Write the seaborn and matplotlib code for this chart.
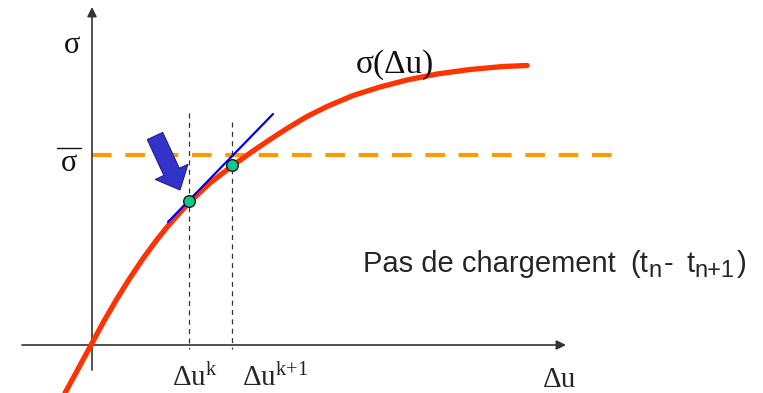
import numpy as np
import pandas as pd
import seaborn as sns
import matplotlib
matplotlib.use("Agg")
import matplotlib.pyplot as plt
from matplotlib.patches import FancyArrow

# ---- données du schéma (repère en pixels, y vers le bas) ----
curve_x = [65, 77, 91, 104, 117, 130, 143, 156, 168, 189, 210, 232, 253, 270, 287,
           307, 327, 353, 380, 407, 437, 470, 503, 527]
curve_y = [393, 371, 345, 321, 298.7, 277.9, 258.6, 240.9, 225.9, 202.5, 183, 166, 151,
           139.5, 128.5, 116.5, 106.5, 95.5, 87, 80, 74, 69.5, 66.5, 65.5]

iter_x = [189, 232]          # Δu^k, Δu^(k+1)
iter_y = [201, 165]
iter_top = [113, 122]        # haut des pointillés verticaux

tangent_x = [168, 273]
tangent_y = [222, 114]

sigma_bar = 155              # niveau de chargement
x_axis_y = 345
y_axis_x = 92

sns.set_style("white")
plt.rcParams['font.family'] = ['Liberation Serif', 'DejaVu Serif']

fig = plt.figure(figsize=(7.63, 3.93), dpi=100)
ax = fig.add_axes([0, 0, 1, 1])
ax.set_xlim(0, 763)
ax.set_ylim(393, 0)
ax.axis('off')

# axes du schéma
ax.annotate('', xy=(566, x_axis_y), xytext=(22, x_axis_y),
            arrowprops=dict(arrowstyle='-|>', color='#333333', lw=1.2,
                            mutation_scale=14, shrinkA=0, shrinkB=0))
ax.annotate('', xy=(y_axis_x, 7), xytext=(y_axis_x, 370),
            arrowprops=dict(arrowstyle='-|>', color='#333333', lw=1.2,
                            mutation_scale=14, shrinkA=0, shrinkB=0))

# niveau sigma barre
ax.plot([y_axis_x, 612], [sigma_bar, sigma_bar], color='#FF9900', lw=3,
        dashes=(4.7, 3.3), solid_capstyle='butt', zorder=2)

# pointillés verticaux
for xv, top in zip(iter_x, iter_top):
    ax.plot([xv, xv], [top, 349], color='#333333', lw=0.9, dashes=(4, 3.5), zorder=2)

# courbe sigma(Δu)
df = pd.DataFrame({'x': curve_x, 'y': curve_y})
sns.lineplot(data=df, x='x', y='y', sort=False, estimator=None,
             color='#FF3300', lw=3.8, ax=ax, zorder=3)
ax.lines[-1].set_solid_joinstyle('round')

# tangente
sns.lineplot(x=tangent_x, y=tangent_y, sort=False, estimator=None,
             color='#0000EE', lw=1.6, ax=ax, zorder=4)

# points d'itération
sns.scatterplot(x=iter_x, y=iter_y, color='#11C98A', edgecolor='#1a1a1a',
                s=70, linewidth=1.0, ax=ax, zorder=5)

# grosse flèche bleue
ax.add_patch(FancyArrow(155, 136, 25, 54, width=17, head_width=36, head_length=20,
                        length_includes_head=True, facecolor='#3333CC',
                        edgecolor='#222288', lw=0.8, zorder=6))

ax.set_xlabel('')
ax.set_ylabel('')

# textes
ax.text(72, 53, 'σ', fontsize=22, ha='center', va='baseline', color='#111111')
ax.text(69, 171, 'σ', fontsize=22, ha='center', va='baseline', color='#111111')
ax.plot([57, 81], [148, 148], color='#111111', lw=1.0)
ax.text(395, 73, 'σ(Δu)', fontsize=24, ha='center', va='baseline', color='#111111')
ax.text(195, 386, 'Δu$\\mathregular{^k}$', fontsize=21, ha='center', va='baseline')
ax.text(275, 386, 'Δu$\\mathregular{^{k{+}1}}$', fontsize=21, ha='center', va='baseline')
ax.text(560, 387, 'Δu', fontsize=21, ha='center', va='baseline')

# "Pas de chargement (tn- tn+1)" posé morceau par morceau
renderer = fig.canvas.get_renderer()
pieces = [('Pas de chargement', 21, 0, 15),
          ('(t', 21, 0, 0),
          ('n', 17, 5, 2),
          ('-', 21, 0, 13),
          ('t', 21, 0, 0),
          ('n+1', 17, 5, 2),
          (')', 21, 0, 0)]
x = 363
for s, size, dy, gap in pieces:
    t = ax.text(x, 272 + dy, s, fontsize=size, ha='left', va='baseline',
                family=['Liberation Sans', 'DejaVu Sans'])
    bb = t.get_window_extent(renderer)
    x = ax.transData.inverted().transform((bb.x1, 0))[0] + gap

fig.savefig('out.png', dpi=100)
